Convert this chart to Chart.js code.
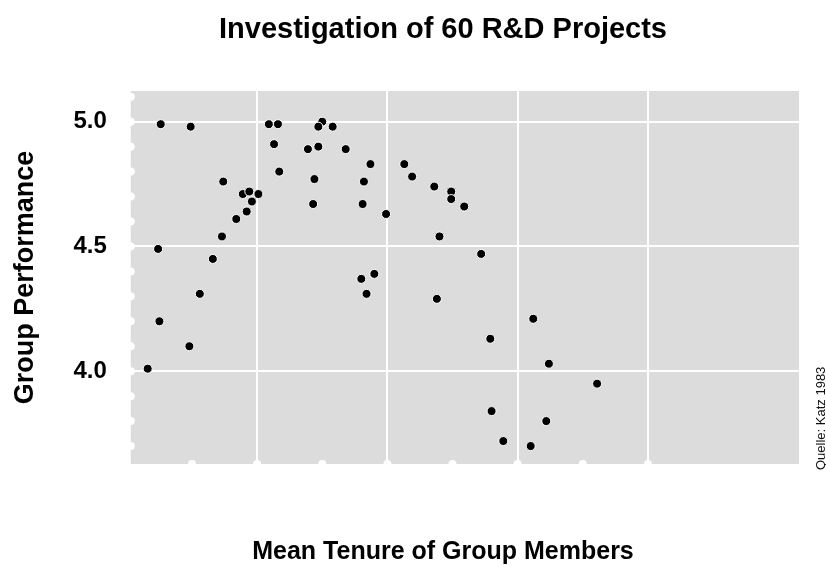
<!DOCTYPE html>
<html>
<head>
<meta charset="utf-8">
<script src="https://cdn.jsdelivr.net/npm/chart.js@4/dist/chart.umd.min.js"></script>
<style>
  html, body { margin: 0; padding: 0; background: #ffffff; }
  #wrap { position: relative; width: 826px; height: 567px; }
</style>
</head>
<body>
<div id="wrap"><canvas id="c" width="826" height="567"></canvas></div>
<script>
// ---- data ----
const chartTitle = 'Investigation of 60 R&D Projects';
const xAxisTitle = 'Mean Tenure of Group Members';
const yAxisTitle = 'Group Performance';
const sourceNote = 'Quelle: Katz 1983';

const meanTenure = [
  0.26, 0.49, 1.09, 1.16, 1.50, 1.47, 1.58, 1.13, 1.39, 1.47,
  1.68, 1.87, 2.13, 1.17, 0.74, 1.44, 1.82, 0.89, 0.94, 1.01,
  0.96, 1.43, 1.81, 0.92, 1.99, 0.84, 0.73, 0.24, 0.66, 2.19,
  2.36, 2.49, 2.49, 2.59, 2.40, 2.72, 1.80, 1.90, 1.84, 0.56,
  0.25, 0.48, 0.16, 2.38, 3.12, 2.79, 3.24, 3.61, 2.80, 3.22,
  2.89, 3.10
];
const groupPerformance = [
  4.99, 4.98, 4.99, 4.99, 5.00, 4.98, 4.98, 4.91, 4.89, 4.90,
  4.89, 4.83, 4.83, 4.80, 4.76, 4.77, 4.76, 4.71, 4.72, 4.71,
  4.68, 4.67, 4.67, 4.64, 4.63, 4.61, 4.54, 4.49, 4.45, 4.78,
  4.74, 4.72, 4.69, 4.66, 4.54, 4.47, 4.37, 4.39, 4.31, 4.31,
  4.20, 4.10, 4.01, 4.29, 4.21, 4.13, 4.03, 3.95, 3.84, 3.80,
  3.72, 3.70
];
const yTickLabels = [4.0, 4.5, 5.0];
const xGridValues = [1, 2, 3, 4];
const yMinorTicks = [3.7, 3.8, 3.9, 4.0, 4.1, 4.2, 4.3, 4.4, 4.5, 4.6, 4.7, 4.8, 4.9, 5.0, 5.1];
const xMinorTicks = [0.5, 1.0, 1.5, 2.0, 2.5, 3.0, 3.5, 4.0];

const points = meanTenure.map((x, i) => ({ x: x, y: groupPerformance[i] }));

// ---- plugins ----
const panelPlugin = {
  id: 'panel',
  beforeDraw(chart) {
    const { ctx, chartArea: a } = chart;
    ctx.save();
    ctx.fillStyle = '#ffffff';
    ctx.fillRect(0, 0, chart.width, chart.height);
    ctx.fillStyle = '#dcdcdc';
    ctx.fillRect(a.left, a.top, a.right - a.left, a.bottom - a.top);
    ctx.restore();
  },
  beforeDatasetsDraw(chart) {
    const { ctx, chartArea: a, scales } = chart;
    ctx.save();
    ctx.fillStyle = '#ffffff';
    yMinorTicks.forEach(v => {
      const py = scales.y.getPixelForValue(v);
      ctx.beginPath(); ctx.arc(a.left, py, 4, 0, Math.PI * 2); ctx.fill();
    });
    xMinorTicks.forEach(v => {
      const px = scales.x.getPixelForValue(v);
      ctx.beginPath(); ctx.arc(px, a.bottom, 4, 0, Math.PI * 2); ctx.fill();
    });
    ctx.restore();
  },
  afterDraw(chart) {
    const { ctx, chartArea: a } = chart;
    ctx.save();
    ctx.translate(821, a.bottom + 6);
    ctx.rotate(-Math.PI / 2);
    ctx.fillStyle = '#111111';
    ctx.font = '13px "Liberation Sans Narrow", "Liberation Sans", Arial, sans-serif';
    ctx.textAlign = 'left';
    ctx.textBaseline = 'middle';
    ctx.fillText(sourceNote, 0, 0);
    ctx.restore();
  }
};

const FONT = '"Liberation Sans", Arial, Helvetica, sans-serif';

new Chart(document.getElementById('c'), {
  type: 'scatter',
  data: {
    datasets: [{
      label: 'Projects',
      data: points,
      pointRadius: 4.5,
      pointHoverRadius: 4.5,
      backgroundColor: '#000000',
      borderColor: '#ffffff',
      borderWidth: 1
    }]
  },
  options: {
    responsive: false,
    animation: false,
    events: [],
    layout: { padding: { left: 0, right: -60, top: 0, bottom: 0 } },
    plugins: {
      legend: { display: false },
      tooltip: { enabled: false },
      title: {
        display: true,
        text: chartTitle,
        color: '#000000',
        font: { family: FONT, size: 29, weight: 'bold' },
        padding: { top: 13, bottom: 43.2 }
      },
      subtitle: {
        display: true,
        position: 'bottom',
        text: xAxisTitle,
        color: '#000000',
        font: { family: FONT, size: 25, weight: 'bold' },
        padding: { top: 73, bottom: 0 }
      }
    },
    scales: {
      x: {
        type: 'linear',
        min: 0.03,
        max: 5.16,
        border: { display: false },
        grid: {
          drawTicks: false,
          lineWidth: 2,
          color: (c) => (c.tick && xGridValues.includes(c.tick.value)) ? '#ffffff' : 'rgba(0,0,0,0)'
        },
        ticks: { display: false, stepSize: 1, includeBounds: false }
      },
      y: {
        type: 'linear',
        position: 'left',
        min: 3.628,
        max: 5.123,
        border: { display: false },
        grid: { drawTicks: false, lineWidth: 2, color: '#ffffff' },
        ticks: {
          stepSize: 0.5,
          includeBounds: false,
          padding: 24,
          color: '#000000',
          font: { family: FONT, size: 24, weight: 'bold' },
          callback: (v) => yTickLabels.includes(Math.round(v * 10) / 10) ? Number(v).toFixed(1) : ''
        },
        title: {
          display: true,
          text: yAxisTitle,
          color: '#000000',
          font: { family: FONT, size: 27, weight: 'bold' },
          padding: { top: 9, bottom: 8 }
        }
      },
      y2: {
        type: 'linear',
        position: 'right',
        display: true,
        border: { display: false },
        grid: { display: false, drawTicks: false },
        ticks: { display: false },
        afterFit(scale) { scale.width = 87; }
      }
    }
  },
  plugins: [panelPlugin]
});
</script>
</body>
</html>
